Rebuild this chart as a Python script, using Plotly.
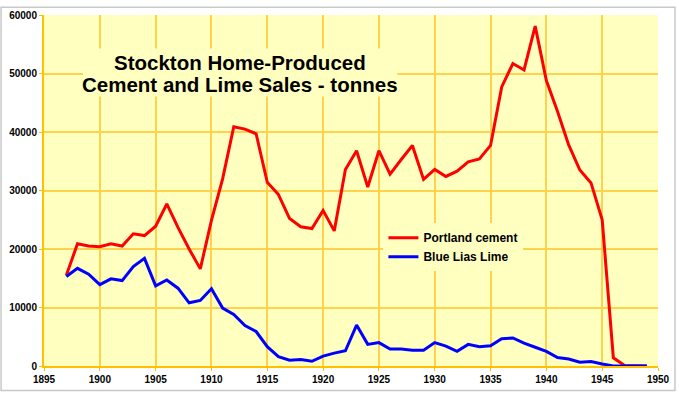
import plotly.graph_objects as go

years = list(range(1897, 1950))
portland = [15500, 20900, 20500, 20400, 20900, 20500, 22600, 22300, 23900, 27700,
            23700, 20000, 16600, 24900, 32000, 40900, 40500, 39700, 31400, 29300,
            25200, 23800, 23500, 26600, 23100, 33600, 36800, 30600, 36800, 32800,
            35300, 37700, 31900, 33600, 32400, 33300, 34900, 35400, 37700, 47700,
            51700, 50600, 58100, 48800, 43500, 37800, 33500, 31300, 25000, 1400,
            100, 0, 0]
blue_lias = [15300, 16700, 15700, 13900, 14900, 14600, 17000, 18400, 13700, 14700,
             13300, 10800, 11200, 13200, 9900, 8800, 6900, 5900, 3300, 1600,
             1000, 1100, 800, 1700, 2200, 2600, 7000, 3700, 4000, 2900,
             2900, 2700, 2700, 4000, 3400, 2500, 3700, 3300, 3450, 4650,
             4800, 3900, 3200, 2500, 1450, 1200, 650, 750, 350, 0,
             0, 0, 0]
series_names = ["Portland cement", "Blue Lias Lime"]
title_lines = ["Stockton Home-Produced", "Cement and Lime Sales - tonnes"]

BG = "#FFFFC0"
GRID = "#FFD24D"
AXIS = "#FFC000"
FONT = "Liberation Sans, Arial, sans-serif"

fig = go.Figure()
fig.add_trace(go.Scatter(x=years, y=portland, mode="lines", name=series_names[0],
                         line=dict(color="#FF0000", width=3)))
fig.add_trace(go.Scatter(x=years, y=blue_lias, mode="lines", name=series_names[1],
                         line=dict(color="#0000FF", width=3)))

tickfont = dict(family=FONT, size=10, color="#000000", weight="bold")

fig.update_layout(
    width=679, height=394,
    margin=dict(l=44, r=20, t=9, b=28),
    paper_bgcolor="white",
    plot_bgcolor=BG,
    font=dict(family=FONT),
    xaxis=dict(range=[1895, 1950], dtick=5, tick0=1895, showgrid=True,
               gridcolor=GRID, gridwidth=1.5, showline=True, linecolor=AXIS,
               linewidth=2, ticks="outside", ticklen=3, tickcolor=AXIS,
               tickfont=tickfont, tickformat="d", zeroline=False, fixedrange=True),
    yaxis=dict(range=[0, 60000], dtick=10000, showgrid=True, gridcolor=GRID,
               gridwidth=1.5, showline=True, linecolor=AXIS, linewidth=2,
               ticks="outside", ticklen=3, tickcolor=AXIS, tickfont=tickfont,
               tickformat="d", zeroline=False, fixedrange=True),
    legend=dict(x=0.5528, y=0.407, xanchor="left", yanchor="top",
                bgcolor=BG, borderwidth=0, itemwidth=30, tracegroupgap=0,
                font=dict(family=FONT, size=12, color="#000000", weight="bold")),
    showlegend=True,
)

# outer frame
fig.add_shape(type="rect", xref="paper", yref="paper",
              x0=(1 - 44) / 615, x1=(676 - 44) / 615,
              y0=(366 - 391) / 357, y1=(366 - 1) / 357,
              line=dict(color="#C8C8C8", width=1.5), fillcolor="rgba(0,0,0,0)",
              layer="above")
# title background box
fig.add_shape(type="rect", xref="paper", yref="paper",
              x0=(83 - 44) / 615, x1=(398 - 44) / 615,
              y0=(366 - 92) / 357, y1=(366 - 43) / 357,
              line=dict(width=0), fillcolor=BG, layer="above")
for txt, yc in zip(title_lines, [57, 80]):
    fig.add_annotation(xref="paper", yref="paper", x=(240 - 44) / 615,
                       y=(366 - yc) / 357, text="<b>" + txt + "</b>",
                       showarrow=False, xanchor="center", yanchor="middle",
                       font=dict(family=FONT, size=20.5, color="#000000"))

fig.write_html("out.html", config={"displayModeBar": False},
               post_script="document.body.style.margin='0';document.body.style.padding='0';")
